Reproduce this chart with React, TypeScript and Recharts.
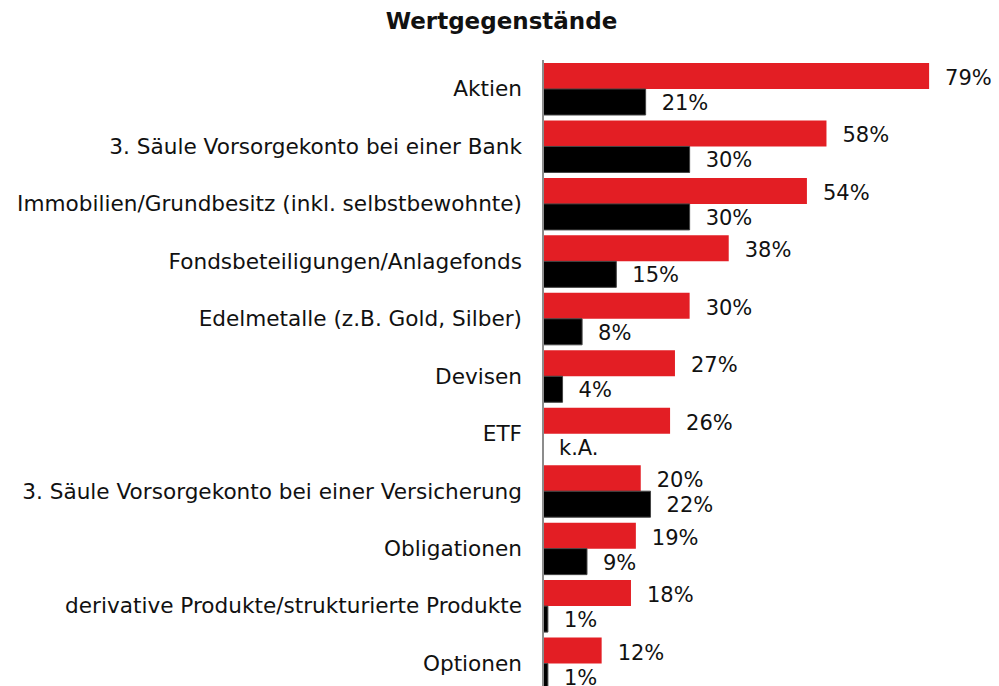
import React from 'react';
import { BarChart, Bar, XAxis, YAxis, LabelList } from 'recharts';

const categories = [
  'Aktien',
  '3. Säule Vorsorgekonto bei einer Bank',
  'Immobilien/Grundbesitz (inkl. selbstbewohnte)',
  'Fondsbeteiligungen/Anlagefonds',
  'Edelmetalle (z.B. Gold, Silber)',
  'Devisen',
  'ETF',
  '3. Säule Vorsorgekonto bei einer Versicherung',
  'Obligationen',
  'derivative Produkte/strukturierte Produkte',
  'Optionen',
];

// red series
const seriesRed = [79, 58, 54, 38, 30, 27, 26, 20, 19, 18, 12];
// black series (null = keine Angabe)
const seriesBlack: (number | null)[] = [21, 30, 30, 15, 8, 4, null, 22, 9, 1, 1];

const FONT = '"DejaVu Sans", Verdana, sans-serif';

const data = categories.map((name, i) => ({
  name,
  red: seriesRed[i],
  redLabel: `${seriesRed[i]}%`,
  black: seriesBlack[i] ?? 0,
  blackLabel: seriesBlack[i] == null ? '' : `${seriesBlack[i]}%`,
  naLabel: seriesBlack[i] == null ? 'k.A.' : '',
}));

const getBox = (props: any) => {
  const vb = props.viewBox || props;
  return {
    x: Number(vb.x ?? props.x),
    y: Number(vb.y ?? props.y),
    w: Number(vb.width ?? props.width ?? 0),
    h: Number(vb.height ?? props.height ?? 0),
  };
};

const makeLabel = (dy: number) => (props: any) => {
  if (!props.value) return null;
  const { x, y, w, h } = getBox(props);
  return (
    <text x={x + w + 16} y={y + h / 2 + dy} dominantBaseline="central" fontFamily={FONT} fontSize={21} fill="#111">
      {props.value}
    </text>
  );
};

// "k.A." sits in the empty black slot below the red bar
const naLabel = (props: any) => {
  if (!props.value) return null;
  const { x, y, h } = getBox(props);
  return (
    <text x={x + 16} y={y + h + 14} dominantBaseline="central" fontFamily={FONT} fontSize={21} fill="#111">
      {props.value}
    </text>
  );
};

export default function App() {
  return (
    <div style={{ position: 'absolute', left: 0, top: 0, width: 999, height: 700, background: '#fff' }}>
      <div
        style={{
          position: 'absolute',
          top: 10,
          left: 0,
          width: 1003,
          textAlign: 'center',
          fontFamily: FONT,
          fontWeight: 'bold',
          fontSize: 23,
          lineHeight: 1,
          color: '#111',
        }}
      >
        Wertgegenstände
      </div>
      <BarChart
        width={999}
        height={700}
        data={data}
        layout="vertical"
        margin={{ top: 60, right: 65, bottom: 8, left: 0 }}
        barCategoryGap={3}
        barGap={0}
      >
        <XAxis type="number" domain={[0, 80]} hide />
        <YAxis
          type="category"
          dataKey="name"
          width={543}
          axisLine={{ stroke: '#8c8c8c', strokeWidth: 2 }}
          tickLine={false}
          tickSize={0}
          tickMargin={21}
          interval={0}
          tick={{ fontFamily: FONT, fontSize: 21.6, fill: '#111' }}
        />
        <Bar dataKey="red" fill="#e31e24" isAnimationActive={false}>
          <LabelList dataKey="redLabel" content={makeLabel(2)} />
          <LabelList dataKey="naLabel" content={naLabel} />
        </Bar>
        <Bar dataKey="black" fill="#000" stroke="#444" strokeWidth={1} isAnimationActive={false}>
          <LabelList dataKey="blackLabel" content={makeLabel(1)} />
        </Bar>
      </BarChart>
    </div>
  );
}
